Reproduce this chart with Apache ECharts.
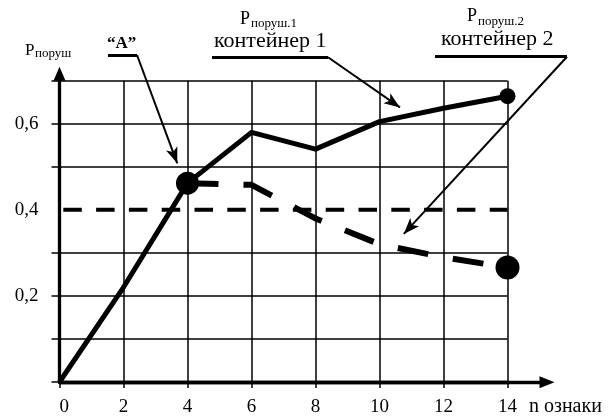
<!DOCTYPE html>
<html><head><meta charset="utf-8">
<script src="https://cdn.jsdelivr.net/npm/echarts@6/dist/echarts.min.js"></script>
<style>html,body{margin:0;padding:0;background:#fff}#c{width:614px;height:417px}</style>
</head><body><div id="c"></div>
<script>
// ---- data ----
const xTicks = [0, 2, 4, 6, 8, 10, 12, 14];
const yGridValues = [0, 0.1, 0.2, 0.3, 0.5, 0.6, 0.7];
const yLabelValues = [0.2, 0.4, 0.6];
const container1X = [0, 2, 4, 6, 8, 10, 12, 14];
const container1Y = [0, 0.22, 0.462, 0.58, 0.541, 0.605, 0.636, 0.664];
const container2X = [4, 6, 8, 10, 12, 14];
const container2Y = [0.462, 0.458, 0.38, 0.32, 0.29, 0.266];
const thresholdX = [0, 14];
const thresholdY = [0.4, 0.4];
// annotation arrow targets (data units)
const arrowA = [3.68, 0.508];
const arrow1 = [10.64, 0.638];
const arrow2 = [10.76, 0.344];

const FONT = "'Liberation Serif','Times New Roman',serif";
const zip = (xs, ys) => xs.map((x, i) => [x, ys[i]]);
const BLACK = '#000';

function txt(text, left, top, size, weight) {
  return { text: text, left: left, top: top, padding: 0,
    textStyle: { fontFamily: FONT, fontSize: size, lineHeight: size, fontWeight: weight || 'normal', color: BLACK } };
}

const chart = echarts.init(document.getElementById('c'), null, { renderer: 'canvas' });
chart.setOption({
  animation: false,
  backgroundColor: '#fff',
  title: [
    txt('P', 25, 42, 17),
    txt('поруш', 35, 47, 13),
    txt('“A”', 107, 35, 17, 'bold'),
    txt('P', 240, 10, 18),
    txt('поруш.1', 251, 17, 13),
    txt('контейнер 1', 214, 30, 22),
    txt('P', 467, 7, 18),
    txt('поруш.2', 478, 15, 13),
    txt('контейнер 2', 441, 28, 22),
    txt('n ознаки', 529, 397, 20)
  ],
  grid: [
    { left: 59.5, right: 106.5, top: 80.7, bottom: 34.7, containLabel: false },
    { left: 59.5, right: 74.5, top: 80.7, bottom: 34.7, containLabel: false }
  ],
  xAxis: [
    { type: 'value', gridIndex: 0, min: 0, max: 14, interval: 2,
      axisLine: { show: true, lineStyle: { color: BLACK, width: 3.3 } },
      axisTick: { show: true, length: 6, lineStyle: { color: BLACK, width: 1.5 } },
      axisLabel: { show: true, margin: 16, color: BLACK, fontFamily: FONT, fontSize: 19,
        customValues: xTicks, alignMinLabel: 'left' },
      splitLine: { show: true, lineStyle: { color: BLACK, width: 1.5 } } },
    { type: 'value', gridIndex: 1, min: 0, max: 1,
      axisLine: { show: true, symbol: ['none', 'triangle'], symbolSize: [12, 15], symbolOffset: [0, 7.5],
        lineStyle: { color: BLACK, width: 3.3 } },
      axisTick: { show: false }, axisLabel: { show: false }, splitLine: { show: false } }
  ],
  yAxis: [
    { type: 'value', gridIndex: 0, min: 0, max: 0.7, interval: 0.1,
      axisLine: { show: true, symbol: ['none', 'triangle'], symbolSize: [12, 14], symbolOffset: [0, 7],
        lineStyle: { color: BLACK, width: 3.3 } },
      axisTick: { show: true, length: 8, customValues: yGridValues, lineStyle: { color: BLACK, width: 1.5 } },
      axisLabel: { show: true, margin: 21, color: BLACK, fontFamily: FONT, fontSize: 19,
        customValues: yLabelValues, padding: [0, 0, 10, 0],
        formatter: v => String(Math.round(v * 10) / 10).replace('.', ',') },
      splitLine: { show: true, lineStyle: { color: BLACK, width: 1.5 } } },
    { type: 'value', gridIndex: 1, min: 0, max: 1, show: false }
  ],
  series: [
    { name: 'threshold', type: 'line', xAxisIndex: 0, yAxisIndex: 0,
      data: zip(thresholdX, thresholdY), symbol: 'none', silent: true,
      lineStyle: { color: BLACK, width: 4, type: [18.5, 14.3], dashOffset: 29, cap: 'butt' } },
    { name: 'container2', type: 'line', xAxisIndex: 0, yAxisIndex: 0,
      data: zip(container2X, container2Y), symbol: 'circle', silent: true,
      symbolSize: (v, p) => p.dataIndex === 0 ? 23 : (p.dataIndex === container2X.length - 1 ? 24 : 0),
      itemStyle: { color: BLACK },
      lineStyle: { color: BLACK, width: 6, type: [31, 25], cap: 'butt' } },
    { name: 'container1', type: 'line', xAxisIndex: 0, yAxisIndex: 0,
      data: zip(container1X, container1Y), symbol: 'circle', silent: true,
      symbolSize: (v, p) => p.dataIndex === container1X.length - 1 ? 16 : 0,
      itemStyle: { color: BLACK },
      lineStyle: { color: BLACK, width: 5, join: 'round' } },
    { name: 'leaders', type: 'line', xAxisIndex: 0, yAxisIndex: 0, data: [], clip: false, silent: true,
      markLine: { silent: true, symbol: ['none', 'arrow'], symbolSize: [9, 16], label: { show: false },
        lineStyle: { color: BLACK, width: 2, type: 'solid' },
        data: [
          [{ x: 137, y: 55 }, { coord: arrowA }],
          [{ x: 328, y: 57.3 }, { coord: arrow1 }],
          [{ x: 567, y: 56.7 }, { coord: arrow2 }]
        ] } },
    { name: 'underlines', type: 'line', xAxisIndex: 0, yAxisIndex: 0, data: [], clip: false, silent: true,
      markLine: { silent: true, symbol: ['none', 'none'], label: { show: false },
        lineStyle: { color: BLACK, width: 3, type: 'solid' },
        data: [
          [{ x: 108, y: 55 }, { x: 137, y: 55 }],
          [{ x: 212, y: 57.3 }, { x: 328, y: 57.3 }],
          [{ x: 435, y: 56.7 }, { x: 567, y: 56.7 }]
        ] } }
  ]
});
</script></body></html>
